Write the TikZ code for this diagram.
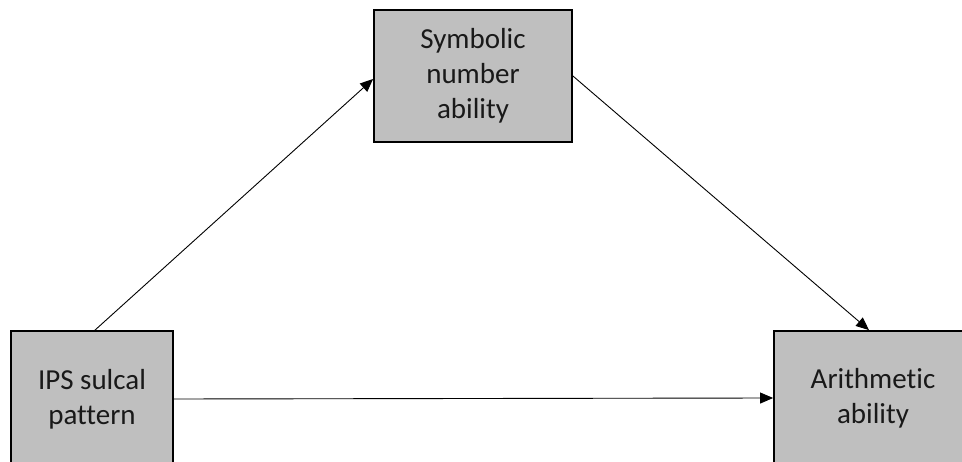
\documentclass[tikz,border=0pt]{standalone}
\usepackage{fontspec}
\setmainfont{Carlito}[Ligatures=NoCommon]
\usetikzlibrary{arrows.meta}

\begin{document}
\begin{tikzpicture}[x=1pt,y=-1pt]
\tikzstyle{every node}=[draw=black,line width=1.8pt,fill=black!25,align=center,inner sep=0pt,text=black!90,font=\fontsize{29}{35}\selectfont];
\tikzstyle{path}=[line width=0.9pt,-{Triangle[length=13pt,width=11pt]}];
\clip (0,0) rectangle (962,462);
\fill[white] (0,0) rectangle (962,462);
\node[minimum width=162pt,minimum height=136pt] (ips) at (92,399) {IPS sulcal\\pattern};
\node[minimum width=198pt,minimum height=132pt] (sym) at (473,76) {Symbolic\\number\\ability};
\node[minimum width=198pt,minimum height=134pt] (arith) at (873,398) {Arithmetic\\ability};
\draw[path] ([xshift=3pt]ips.north) -- ([yshift=-3pt]sym.west);
\draw[path] (sym.east) -- ([xshift=-4pt]arith.north);
\draw[path] (ips.east) -- (arith.west);
\end{tikzpicture}
\end{document}
